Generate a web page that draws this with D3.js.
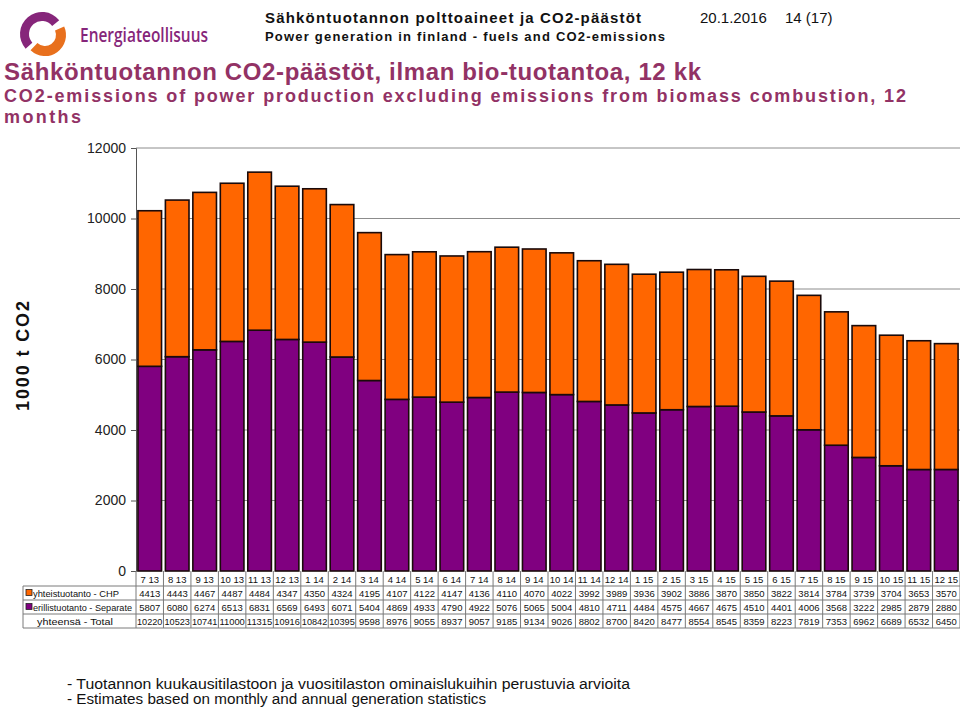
<!DOCTYPE html>
<html><head><meta charset="utf-8">
<script src="https://cdn.jsdelivr.net/npm/d3@7"></script>
<style>body{margin:0;background:#fff}svg{display:block;font-family:"Liberation Sans",Arial,sans-serif}</style>
</head><body>
<svg id="c" width="960" height="708"></svg>
<script>
const categories = ["7 13","8 13","9 13","10 13","11 13","12 13","1 14","2 14","3 14","4 14","5 14","6 14","7 14","8 14","9 14","10 14","11 14","12 14","1 15","2 15","3 15","4 15","5 15","6 15","7 15","8 15","9 15","10 15","11 15","12 15"];
const chp = [4413,4443,4467,4487,4484,4347,4350,4324,4195,4107,4122,4147,4136,4110,4070,4022,3992,3989,3936,3902,3886,3870,3850,3822,3814,3784,3739,3704,3653,3570];
const separate = [5807,6080,6274,6513,6831,6569,6493,6071,5404,4869,4933,4790,4922,5076,5065,5004,4810,4711,4484,4575,4667,4675,4510,4401,4006,3568,3222,2985,2879,2880];
const total = [10220,10523,10741,11000,11315,10916,10842,10395,9598,8976,9055,8937,9057,9185,9134,9026,8802,8700,8420,8477,8554,8545,8359,8223,7819,7353,6962,6689,6532,6450];
const yTicks = [0,2000,4000,6000,8000,10000,12000];
const seriesNames = ["yhteistuotanto - CHP","erillistuotanto - Separate","yhteensä - Total"];
const colors = {chp:"#FF6600", sep:"#800080"};

const svg = d3.select("#c");
const titleColor = "#923265";

// logo
const logo = svg.append("g").attr("transform","translate(42,34)");
const arc = d3.arc();
logo.append("path").attr("d", arc({innerRadius:13, outerRadius:22, startAngle:-2.3, endAngle:0.9})).attr("fill","#86267a");
logo.append("path").attr("d", arc({innerRadius:11, outerRadius:21, startAngle:0.9+0.25, endAngle:3.9})).attr("fill","#e8701d").attr("transform","translate(3,1)");
svg.append("text").attr("x",80).attr("y",42).attr("font-family","'Open Sans',sans-serif").attr("font-size",19).attr("font-weight",600)
  .attr("fill","#86267a").attr("textLength",128).attr("lengthAdjust","spacingAndGlyphs").text("Energiateollisuus");

// header
svg.append("text").attr("x",265).attr("y",23).attr("font-size",15).attr("font-weight","bold").attr("fill","#111")
  .attr("textLength",376).attr("lengthAdjust","spacing").text("Sähköntuotannon polttoaineet ja CO2-päästöt");
svg.append("text").attr("x",265).attr("y",41).attr("font-size",13).attr("font-weight","bold").attr("fill","#111")
  .attr("textLength",400).attr("lengthAdjust","spacing").text("Power generation in finland - fuels and CO2-emissions");
svg.append("text").attr("x",700).attr("y",23).attr("font-size",15).attr("fill","#111").text("20.1.2016");
svg.append("text").attr("x",785).attr("y",23).attr("font-size",15).attr("fill","#111").text("14 (17)");

// titles
svg.append("text").attr("x",4).attr("y",80).attr("font-size",24).attr("font-weight","bold").attr("fill",titleColor)
  .attr("textLength",697).attr("lengthAdjust","spacing").text("Sähköntuotannon CO2-päästöt, ilman bio-tuotantoa, 12 kk");
svg.append("text").attr("x",4).attr("y",102).attr("font-size",18).attr("font-weight","bold").attr("fill",titleColor)
  .attr("textLength",902).attr("lengthAdjust","spacing").text("CO2-emissions of power production excluding emissions from biomass combustion, 12");
svg.append("text").attr("x",4).attr("y",123).attr("font-size",18).attr("font-weight","bold").attr("fill",titleColor)
  .attr("textLength",77).attr("lengthAdjust","spacing").text("months");

// chart
const pL = 136, pR = 960, pT = 148, pB = 571;
const x = d3.scaleBand().domain(categories).range([pL,pR]).paddingInner(0.14).paddingOuter(0.07);
const y = d3.scaleLinear().domain([0,12000]).range([pB,pT]);

const g = svg.append("g");
g.append("g").selectAll("line").data(yTicks.filter(d=>d>0)).join("line")
  .attr("x1",pL).attr("x2",pR).attr("y1",d=>y(d)).attr("y2",d=>y(d)).attr("stroke","#8c8c8c").attr("stroke-width",1);

const yAxis = g.append("g").attr("transform",`translate(${pL},0)`)
  .call(d3.axisLeft(y).tickValues(yTicks).tickSize(5).tickPadding(5).tickFormat(d3.format("d")));
yAxis.select(".domain").attr("stroke","#555");
yAxis.selectAll(".tick line").attr("stroke","#555");
yAxis.selectAll("text").attr("font-size",14).attr("fill","#222").attr("font-family","'Liberation Sans',Arial,sans-serif");

svg.append("text").attr("transform","translate(29,356) rotate(-90)").attr("text-anchor","middle")
  .attr("font-size",18).attr("font-weight","bold").attr("fill","#111").attr("textLength",110).attr("lengthAdjust","spacing").text("1000 t CO2");

const bars = g.append("g");
bars.selectAll("rect.sep").data(categories).join("rect").attr("class","sep")
  .attr("x",d=>x(d)).attr("width",x.bandwidth())
  .attr("y",(d,i)=>y(separate[i])).attr("height",(d,i)=>y(0)-y(separate[i]))
  .attr("fill",colors.sep).attr("stroke","#1a0a0a").attr("stroke-width",1.6);
bars.selectAll("rect.chp").data(categories).join("rect").attr("class","chp")
  .attr("x",d=>x(d)).attr("width",x.bandwidth())
  .attr("y",(d,i)=>y(separate[i]+chp[i])).attr("height",(d,i)=>y(separate[i])-y(separate[i]+chp[i]))
  .attr("fill",colors.chp).attr("stroke","#1a0a0a").attr("stroke-width",1.6);

// table
const step = x.step();
const colX = i => pL + i*step;
const tbl = svg.append("g").attr("stroke","#7a7a7a").attr("stroke-width",1);
[586,600,614,628].forEach(v=>tbl.append("line").attr("x1",23).attr("x2",pR).attr("y1",v).attr("y2",v));
tbl.append("line").attr("x1",23).attr("x2",23).attr("y1",586).attr("y2",628);
d3.range(categories.length+1).forEach(i=>{
  tbl.append("line").attr("x1",colX(i)).attr("x2",colX(i)).attr("y1",571).attr("y2",628);
});
const tt = svg.append("g").attr("font-size",9.5).attr("fill","#111");
categories.forEach((c,i)=>{
  const cx = colX(i)+step/2;
  tt.append("text").attr("x",cx).attr("y",583).attr("text-anchor","middle").text(c);
  tt.append("text").attr("x",cx).attr("y",597).attr("text-anchor","middle").text(chp[i]);
  tt.append("text").attr("x",cx).attr("y",611).attr("text-anchor","middle").text(separate[i]);
  const t = tt.append("text").attr("x",cx).attr("y",625).attr("text-anchor","middle").text(total[i]);
  if (total[i]>=10000) t.attr("textLength", step-2).attr("lengthAdjust","spacingAndGlyphs");
});
const legendY = [593,607];
[colors.chp, colors.sep].forEach((col,k)=>{
  svg.append("rect").attr("x",26).attr("y",legendY[k]-3.5).attr("width",6).attr("height",6).attr("fill",col).attr("stroke","#222").attr("stroke-width",0.8);
});
tt.append("text").attr("x",33).attr("y",597).attr("font-size",9.5).attr("textLength",86).attr("lengthAdjust","spacingAndGlyphs").text(seriesNames[0]);
tt.append("text").attr("x",33).attr("y",611).attr("font-size",8.6).attr("textLength",99).attr("lengthAdjust","spacingAndGlyphs").text(seriesNames[1]);
tt.append("text").attr("x",37).attr("y",625).attr("font-size",9.5).attr("textLength",76).attr("lengthAdjust","spacingAndGlyphs").text(seriesNames[2]);

// footer
svg.append("text").attr("x",67).attr("y",689).attr("font-size",14).attr("fill","#111")
  .attr("textLength",563).attr("lengthAdjust","spacingAndGlyphs").text("- Tuotannon kuukausitilastoon ja vuositilaston ominaislukuihin perustuvia arvioita");
svg.append("text").attr("x",67).attr("y",704).attr("font-size",14).attr("fill","#111")
  .attr("textLength",419).attr("lengthAdjust","spacingAndGlyphs").text("- Estimates based on monthly and annual generation statistics");
</script>
</body></html>
